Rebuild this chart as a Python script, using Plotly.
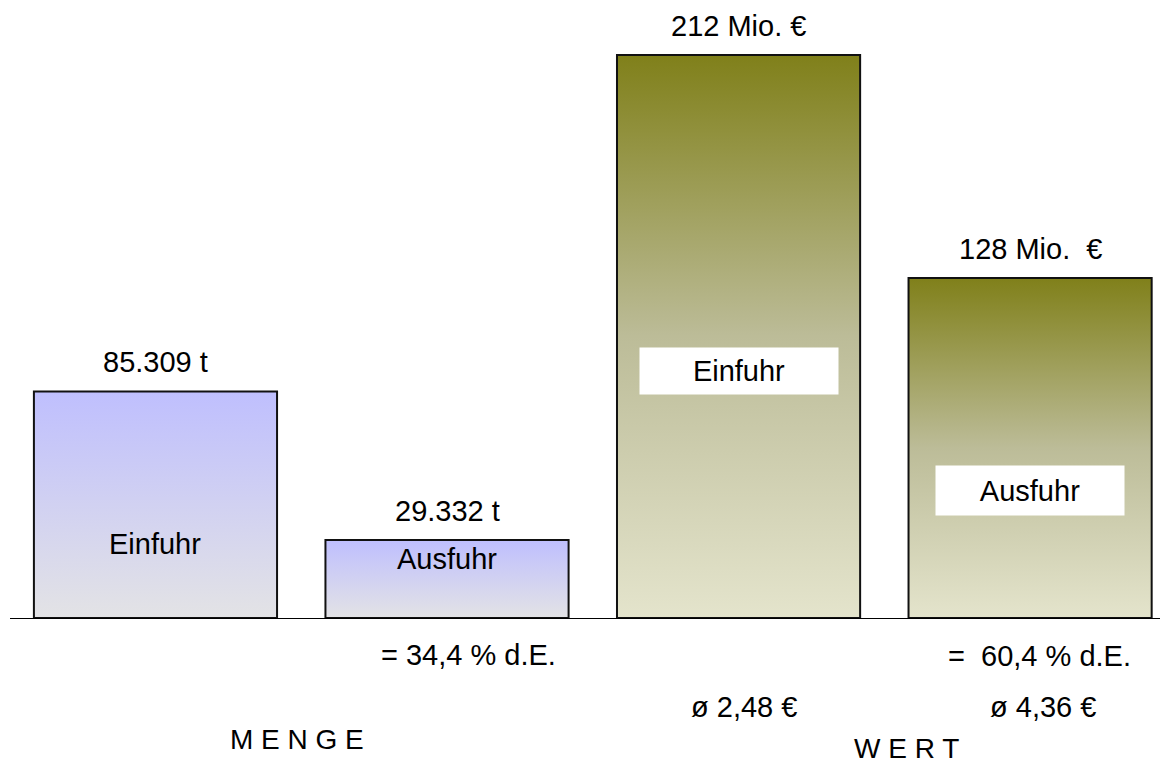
"""Einfuhr / Ausfuhr: Menge und Wert als Balken mit Farbverlauf."""
import plotly.graph_objects as go

FONT = "Liberation Sans, Arial, sans-serif"

# data
groups = ["Menge", "Menge", "Wert", "Wert"]
flows = ["Einfuhr", "Ausfuhr", "Einfuhr", "Ausfuhr"]
values = [85.309, 29.332, 212, 128]          # 1000 t  /  Mio. €
value_labels = ["85.309 t", "29.332 t", "212 Mio. €", "128 Mio.  €"]
share_labels = ["", "= 34,4 % d.E.", "", "=  60,4 % d.E."]
avg_labels = ["", "", "ø 2,48 €", "ø 4,36 €"]
group_titles = ["M E N G E", "W E R T"]

# styling / placement (not data)
YMAX = 221.4
BAR_W = 0.834
grad = {
    "Menge": [[0, "#e3e3e5"], [1, "#bfbffe"]],
    "Wert": [[0, "#e4e4cc"], [0.5, "#bcbc98"], [1, "#80801a"]],
}
flow_label_y = [28.0, 22.4, 93.0, 48.0]
flow_label_box = [None, None, (196, 44), (186, 47)]
# below the baseline, in y-axis units (converted to paper coords)
share_pos = [None, (1.074, -13.9), None, (3.033, -14.3)]
avg_pos = [None, None, (2.019, -33.5), (3.045, -33.5)]
title_pos = [(0.487, -45.7), (2.575, -49.3)]


def below(x, y, text, size=29):
    fig.add_annotation(
        x=x, y=y / YMAX, xref="x", yref="paper", text=text,
        xanchor="center", yanchor="middle",
        showarrow=False, font=dict(family=FONT, size=size, color="#000"),
    )


fig = go.Figure()

for i, (g, v) in enumerate(zip(groups, values)):
    x0, x1 = i - BAR_W / 2, i + BAR_W / 2
    fig.add_trace(go.Scatter(
        x=[x0, x1, x1, x0, x0], y=[0, 0, v, v, 0],
        mode="lines", fill="toself",
        fillgradient=dict(type="vertical", colorscale=grad[g]),
        line=dict(color="#111111", width=2),
        name=f"{g} {flows[i]}",
        hovertemplate=f"{flows[i]}: {value_labels[i]}<extra></extra>",
        showlegend=False,
    ))

    # value above bar
    fig.add_annotation(
        x=i, y=v, text=value_labels[i], showarrow=False,
        yanchor="bottom", yshift=11,
        font=dict(family=FONT, size=29, color="#000"),
    )

    # Einfuhr / Ausfuhr inside bar
    box = flow_label_box[i]
    kw = dict(bgcolor="white", width=box[0], height=box[1]) if box else {}
    fig.add_annotation(
        x=i, y=flow_label_y[i], text=flows[i], showarrow=False,
        font=dict(family=FONT, size=29, color="#000"), **kw,
    )

    if share_pos[i]:
        below(*share_pos[i], share_labels[i])
    if avg_pos[i]:
        below(*avg_pos[i], avg_labels[i])

for t, p in zip(group_titles, title_pos):
    below(*p, t, size=28)

# page body has an 8px margin -> shift the figure so the plot lands in place
fig.update_layout(
    width=1160, height=755,
    margin=dict(l=2, r=0, t=22, b=145),
    paper_bgcolor="white", plot_bgcolor="white",
    showlegend=False,
    xaxis=dict(range=[-0.499, 3.473], showgrid=False, zeroline=False,
               showticklabels=False, ticks="", showline=True,
               linecolor="#000", linewidth=1, fixedrange=True),
    yaxis=dict(range=[0, YMAX], showgrid=False, zeroline=False,
               showticklabels=False, ticks="", showline=False,
               fixedrange=True),
)

fig.write_html("out.html", config={"displayModeBar": False})
